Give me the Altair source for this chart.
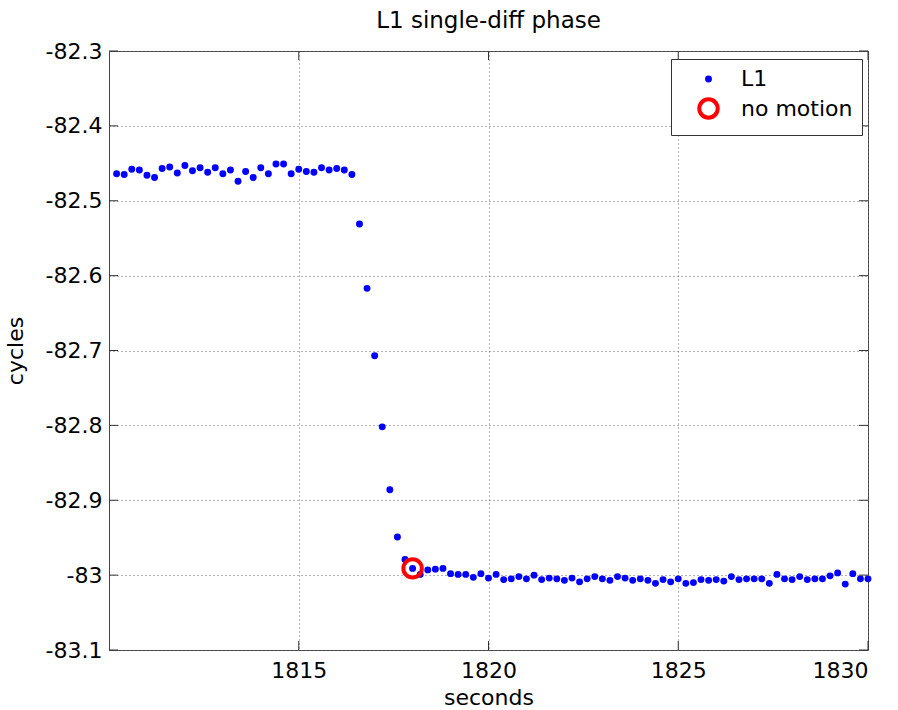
import altair as alt
import pandas as pd

# time stamps (seconds)
t = [
    1810.2, 1810.4, 1810.6, 1810.8, 1811.0, 1811.2, 1811.4, 1811.6, 1811.8, 1812.0,
    1812.2, 1812.4, 1812.6, 1812.8, 1813.0, 1813.2, 1813.4, 1813.6, 1813.8, 1814.0,
    1814.2, 1814.4, 1814.6, 1814.8, 1815.0, 1815.2, 1815.4, 1815.6, 1815.8, 1816.0,
    1816.2, 1816.4, 1816.6, 1816.8, 1817.0, 1817.2, 1817.4, 1817.6, 1817.8, 1818.0,
    1818.2, 1818.4, 1818.6, 1818.8, 1819.0, 1819.2, 1819.4, 1819.6, 1819.8, 1820.0,
    1820.2, 1820.4, 1820.6, 1820.8, 1821.0, 1821.2, 1821.4, 1821.6, 1821.8, 1822.0,
    1822.2, 1822.4, 1822.6, 1822.8, 1823.0, 1823.2, 1823.4, 1823.6, 1823.8, 1824.0,
    1824.2, 1824.4, 1824.6, 1824.8, 1825.0, 1825.2, 1825.4, 1825.6, 1825.8, 1826.0,
    1826.2, 1826.4, 1826.6, 1826.8, 1827.0, 1827.2, 1827.4, 1827.6, 1827.8, 1828.0,
    1828.2, 1828.4, 1828.6, 1828.8, 1829.0, 1829.2, 1829.4, 1829.6, 1829.8, 1830.0,
]

# L1 single-difference phase (cycles)
phase = [
    -82.464, -82.465, -82.458, -82.459, -82.466, -82.469, -82.457, -82.455, -82.463, -82.453,
    -82.460, -82.456, -82.462, -82.456, -82.464, -82.459, -82.474, -82.461, -82.469, -82.456,
    -82.464, -82.451, -82.451, -82.464, -82.458, -82.461, -82.462, -82.456, -82.459, -82.457,
    -82.459, -82.465, -82.531, -82.617, -82.707, -82.802, -82.886, -82.949, -82.979, -82.991,
    -82.999, -82.993, -82.992, -82.991, -82.998, -82.999, -82.999, -83.003, -82.998, -83.004,
    -82.999, -83.006, -83.005, -83.002, -83.005, -83.000, -83.006, -83.004, -83.005, -83.007,
    -83.004, -83.009, -83.005, -83.002, -83.005, -83.007, -83.002, -83.004, -83.007, -83.005,
    -83.007, -83.011, -83.006, -83.009, -83.005, -83.011, -83.010, -83.006, -83.007, -83.006,
    -83.008, -83.002, -83.006, -83.005, -83.005, -83.005, -83.011, -82.999, -83.005, -83.006,
    -83.002, -83.006, -83.005, -83.005, -83.001, -82.997, -83.012, -82.998, -83.005, -83.005,
]

motion_t = [1818.0]
motion_v = [-82.991]

series_names = ["L1", "no motion"]
xticks = [1815, 1820, 1825, 1830]
yticks = [-83.1, -83.0, -82.9, -82.8, -82.7, -82.6, -82.5, -82.4, -82.3]

W, H = 759, 599
FONT = "DejaVu Sans"

df = pd.DataFrame({
    "t": t + motion_t,
    "v": phase + motion_v,
    "series": [series_names[0]] * len(t) + [series_names[1]] * len(motion_t),
})
xt = pd.DataFrame({"t": xticks})
yt = pd.DataFrame({"v": yticks})

xscale = alt.Scale(domain=[1810, 1830], nice=False, zero=False)
yscale = alt.Scale(domain=[-83.1, -82.3], nice=False, zero=False)

xaxis = alt.Axis(values=xticks, title="seconds", ticks=False, domain=False,
                 labelPadding=10, titlePadding=6, labelExpr="'' + datum.value")
yaxis = alt.Axis(values=yticks, title="cycles", ticks=False, domain=False,
                 labelPadding=7, titlePadding=18, labelExpr="'' + datum.value")

points = alt.Chart(df).mark_point(opacity=1).encode(
    x=alt.X("t:Q", scale=xscale, axis=xaxis),
    y=alt.Y("v:Q", scale=yscale, axis=yaxis),
    fill=alt.Fill("series:N", scale=alt.Scale(domain=series_names, range=["#0000ff", "transparent"]),
                  legend=alt.Legend(title=None)),
    stroke=alt.Stroke("series:N", scale=alt.Scale(domain=series_names, range=["#0000ff", "#ff0000"]),
                      legend=alt.Legend(title=None)),
    size=alt.Size("series:N", scale=alt.Scale(domain=series_names, range=[48, 340]),
                  legend=alt.Legend(title=None)),
    strokeWidth=alt.StrokeWidth("series:N", scale=alt.Scale(domain=series_names, range=[0, 4]),
                                legend=alt.Legend(title=None)),
    order=alt.Order("series:N"),
)

tick_color = "#333333"
xt_bottom = alt.Chart(xt).mark_rule(color=tick_color).encode(
    x=alt.X("t:Q", scale=xscale, axis=xaxis), y=alt.value(H), y2=alt.value(H - 9))
xt_top = alt.Chart(xt).mark_rule(color=tick_color).encode(
    x=alt.X("t:Q", scale=xscale, axis=xaxis), y=alt.value(0), y2=alt.value(9))
yt_left = alt.Chart(yt).mark_rule(color=tick_color).encode(
    y=alt.Y("v:Q", scale=yscale, axis=yaxis), x=alt.value(0), x2=alt.value(9))
yt_right = alt.Chart(yt).mark_rule(color=tick_color).encode(
    y=alt.Y("v:Q", scale=yscale, axis=yaxis), x=alt.value(W - 9), x2=alt.value(W))

chart = alt.layer(points, xt_bottom, xt_top, yt_left, yt_right).properties(
    width=W, height=H,
    title=alt.TitleParams("L1 single-diff phase", font=FONT, fontSize=23, fontWeight="normal",
                          color="black", anchor="middle", frame="group", offset=7),
    autosize=alt.AutoSizeParams(type="none"),
    padding={"left": 109, "top": 51, "right": 30, "bottom": 60},
).configure(
    background="white",
).configure_view(
    stroke="#444444", strokeWidth=1,
).configure_axis(
    labelFont=FONT, labelFontSize=22, labelColor="black",
    titleFont=FONT, titleFontSize=22, titleFontWeight="normal", titleColor="black",
    grid=True, gridColor="#666666", gridDash=[1, 3], gridWidth=1, gridOpacity=1,
).configure_legend(
    orient="none", legendX=562, legendY=8, direction="vertical",
    padding=9, symbolOffset=17, labelOffset=21, rowPadding=1,
    strokeColor="#333333", fillColor="white",
    labelFont=FONT, labelFontSize=22, labelColor="black",
)

chart.save("out.html", embed_options={"renderer": "svg", "actions": False})
